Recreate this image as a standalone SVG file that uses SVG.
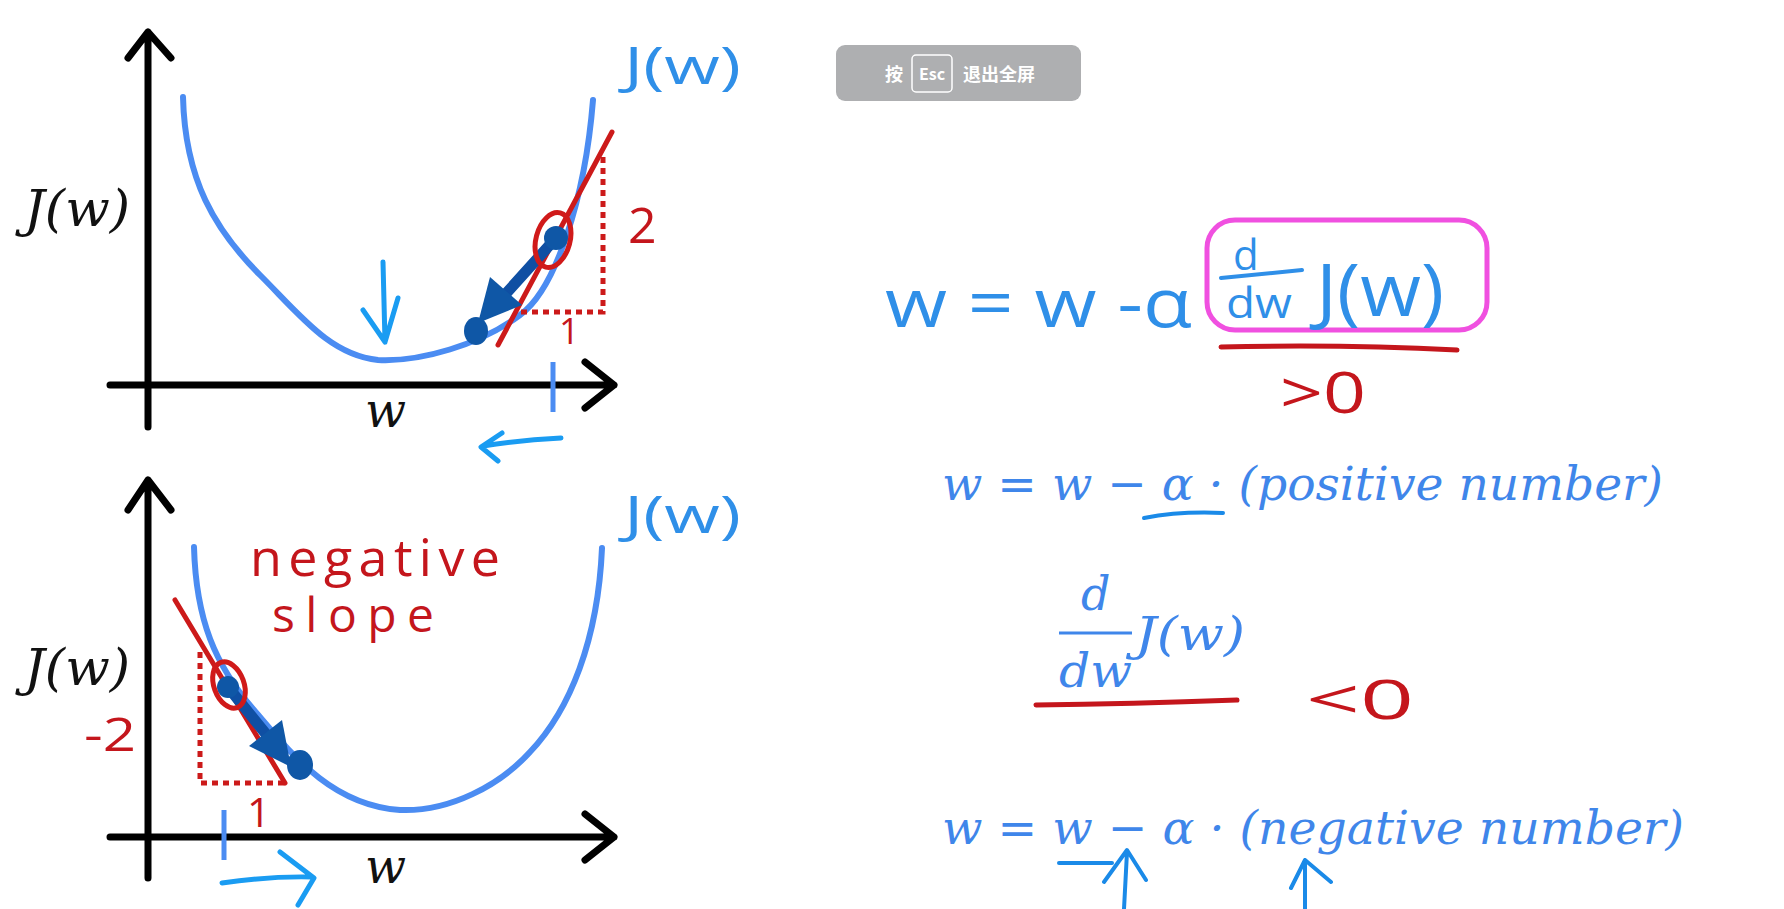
<svg xmlns="http://www.w3.org/2000/svg" width="1784" height="909" viewBox="0 0 1784 909">
<style>
.ax{stroke:#000;stroke-width:7;fill:none;stroke-linecap:round;stroke-linejoin:round}
.curve{stroke:#4b8cf2;stroke-width:6;fill:none;stroke-linecap:round}
.tan{stroke:#cc1a1a;stroke-width:5;fill:none;stroke-linecap:round}
.dot{stroke:#cc1a1a;stroke-width:5;fill:none;stroke-dasharray:6 5}
.ring{stroke:#d01a1a;stroke-width:5;fill:none}
.db{fill:#0f57a6}
.dbs{stroke:#0f4fa3;stroke-width:11;fill:none;stroke-linecap:round}
.lb{stroke:#1a9cf2;stroke-width:5;fill:none;stroke-linecap:round;stroke-linejoin:round}
.tick{stroke:#4b8cf2;stroke-width:5;fill:none}
.ul{stroke:#1a8ae8;stroke-width:4;fill:none;stroke-linecap:round;stroke-linejoin:round}
.rl{stroke:#c4161c;stroke-width:5;fill:none;stroke-linecap:round}
.mb{font-family:"DejaVu Serif","Liberation Serif",serif;font-style:italic;fill:#111}
.mbl{font-family:"DejaVu Serif","Liberation Serif",serif;font-style:italic;fill:#3f86ea}
.hb{font-family:"Open Sans","DejaVu Sans",sans-serif;fill:#2f8fe8}
.hr{font-family:"Open Sans","DejaVu Sans",sans-serif;fill:#c4161c}
.cn{font-family:"Noto Sans CJK SC","Noto Sans",sans-serif;font-weight:bold;fill:#fff}
</style>
<rect width="1784" height="909" fill="#fff"/>

<g id="top-chart">
  <path class="ax" d="M148,32 L148,427 M128,58 L148,32 L171,58"/>
  <path class="ax" d="M110,385 L614,385 M585,362 L614,385 L585,408"/>
  <text class="mb" x="24" y="226" font-size="50" textLength="106" lengthAdjust="spacingAndGlyphs">J(w)</text>
  <text class="mb" x="365" y="427" font-size="48">w</text>
  <path class="curve" d="M183,97 C185,180 215,230 260,275 C300,315 330,355 378,360 C420,362 480,345 520,315 C555,290 585,200 593,100"/>
  <text class="hb" x="624" y="84" font-size="52" textLength="117" lengthAdjust="spacingAndGlyphs">J(w)</text>
  <path class="dot" d="M603,157 L603,312 L520,312"/>
  <path class="tan" d="M498,345 L612,132"/>
  <text class="hr" x="628" y="243" font-size="50">2</text>
  <text class="hr" x="559" y="344" font-size="36">1</text>
  <path class="dbs" d="M556,238 L502,298"/>
  <polygon class="db" points="478,323 522,305 490,277"/>
  <circle class="db" cx="556" cy="238" r="12"/>
  <ellipse class="db" cx="476" cy="331" rx="12" ry="14"/>
  <ellipse class="ring" cx="553" cy="240" rx="17" ry="28" transform="rotate(15 553 240)"/>
  <path class="lb" d="M383,262 L385,342 M363,310 L385,342 L398,298"/>
  <path class="tick" d="M553,362 L553,412"/>
  <path class="lb" d="M561,438 Q520,440 483,446 M502,433 L481,447 L498,461"/>
</g>

<g id="bottom-chart">
  <path class="ax" d="M148,480 L148,878 M128,510 L148,480 L171,510"/>
  <path class="ax" d="M110,837 L614,837 M585,814 L614,837 L585,860"/>
  <text class="mb" x="24" y="685" font-size="50" textLength="106" lengthAdjust="spacingAndGlyphs">J(w)</text>
  <text class="mb" x="365" y="883" font-size="48">w</text>
  <path class="curve" d="M194,547 C196,620 215,665 254,710 C290,752 330,805 400,810 C450,812 500,785 530,752 C570,710 598,640 602,548"/>
  <text class="hb" x="624" y="533" font-size="52" textLength="117" lengthAdjust="spacingAndGlyphs">J(w)</text>
  <text class="hr" x="250" y="576" font-size="52" textLength="250" lengthAdjust="spacing">negative</text>
  <text class="hr" x="272" y="632" font-size="48" textLength="162" lengthAdjust="spacing">slope</text>
  <path class="dot" d="M200,652 L200,783 L288,783"/>
  <path class="tan" d="M175,600 L285,783"/>
  <text class="hr" x="84" y="751" font-size="46" textLength="52" lengthAdjust="spacingAndGlyphs">-2</text>
  <text class="hr" x="247" y="827" font-size="41">1</text>
  <path class="dbs" d="M228,687 L270,739"/>
  <polygon class="db" points="291,767 282,720 249,746"/>
  <circle class="db" cx="228" cy="687" r="11"/>
  <ellipse class="db" cx="300" cy="765" rx="13" ry="15"/>
  <ellipse class="ring" cx="229" cy="685" rx="15" ry="24" transform="rotate(-20 229 685)"/>
  <path class="tick" d="M224,810 L224,860"/>
  <path class="lb" d="M222,883 Q270,876 312,877 M280,852 L314,878 L298,905"/>
</g>

<g id="esc-hint">
  <rect x="836" y="45" width="245" height="56" rx="9" fill="#aeafb1"/>
  <text class="cn" x="885" y="81" font-size="18">按</text>
  <rect x="912" y="55" width="40" height="37" rx="4" fill="none" stroke="#fff" stroke-width="1.5"/>
  <text class="cn" x="932" y="80" font-size="16" text-anchor="middle">Esc</text>
  <text class="cn" x="963" y="81" font-size="18" textLength="72">退出全屏</text>
</g>

<g id="update-rule-handwritten">
  <text class="hb" x="885" y="327" font-size="68" textLength="307" lengthAdjust="spacingAndGlyphs">w = w -α</text>
  <rect x="1207" y="220" width="280" height="110" rx="28" fill="none" stroke="#f050e0" stroke-width="5"/>
  <text class="hb" x="1233" y="270" font-size="42">d</text>
  <path d="M1221,278 L1302,270" stroke="#2f8fe8" stroke-width="4" stroke-linecap="round"/>
  <text class="hb" x="1226" y="318" font-size="42" textLength="66" lengthAdjust="spacingAndGlyphs">dw</text>
  <text class="hb" x="1316" y="316" font-size="74" textLength="128" lengthAdjust="spacingAndGlyphs">J(w)</text>
  <path class="rl" d="M1221,347 Q1340,344 1457,350"/>
  <text class="hr" x="1280" y="413" font-size="56" textLength="86" lengthAdjust="spacingAndGlyphs">&gt;0</text>
</g>

<g id="positive-line">
  <text class="mbl" x="942" y="500" font-size="47" textLength="721" lengthAdjust="spacingAndGlyphs">w = w − α · (positive number)</text>
  <path class="ul" d="M1144,518 Q1180,511 1223,513"/>
</g>

<g id="derivative-negative">
  <text class="mbl" x="1081" y="610" font-size="46">d</text>
  <path d="M1059,633 L1132,633" stroke="#3f86ea" stroke-width="3"/>
  <text class="mbl" x="1059" y="687" font-size="46" textLength="73" lengthAdjust="spacingAndGlyphs">dw</text>
  <text class="mbl" x="1135" y="650" font-size="46" textLength="110" lengthAdjust="spacingAndGlyphs">J(w)</text>
  <path class="rl" d="M1036,705 Q1130,704 1237,700"/>
  <text class="hr" x="1306" y="719" font-size="54" textLength="108" lengthAdjust="spacingAndGlyphs">&lt;0</text>
</g>

<g id="negative-line">
  <text class="mbl" x="942" y="844" font-size="47" textLength="742" lengthAdjust="spacingAndGlyphs">w = w − α · (negative number)</text>
  <path class="ul" d="M1059,863 L1112,863"/>
  <path class="ul" stroke-width="3" d="M1124,909 L1127,852 M1104,882 L1127,850 L1146,880"/>
  <path class="ul" stroke-width="3" d="M1305,909 L1305,860 M1291,888 L1305,860 L1331,882"/>
</g>
</svg>
